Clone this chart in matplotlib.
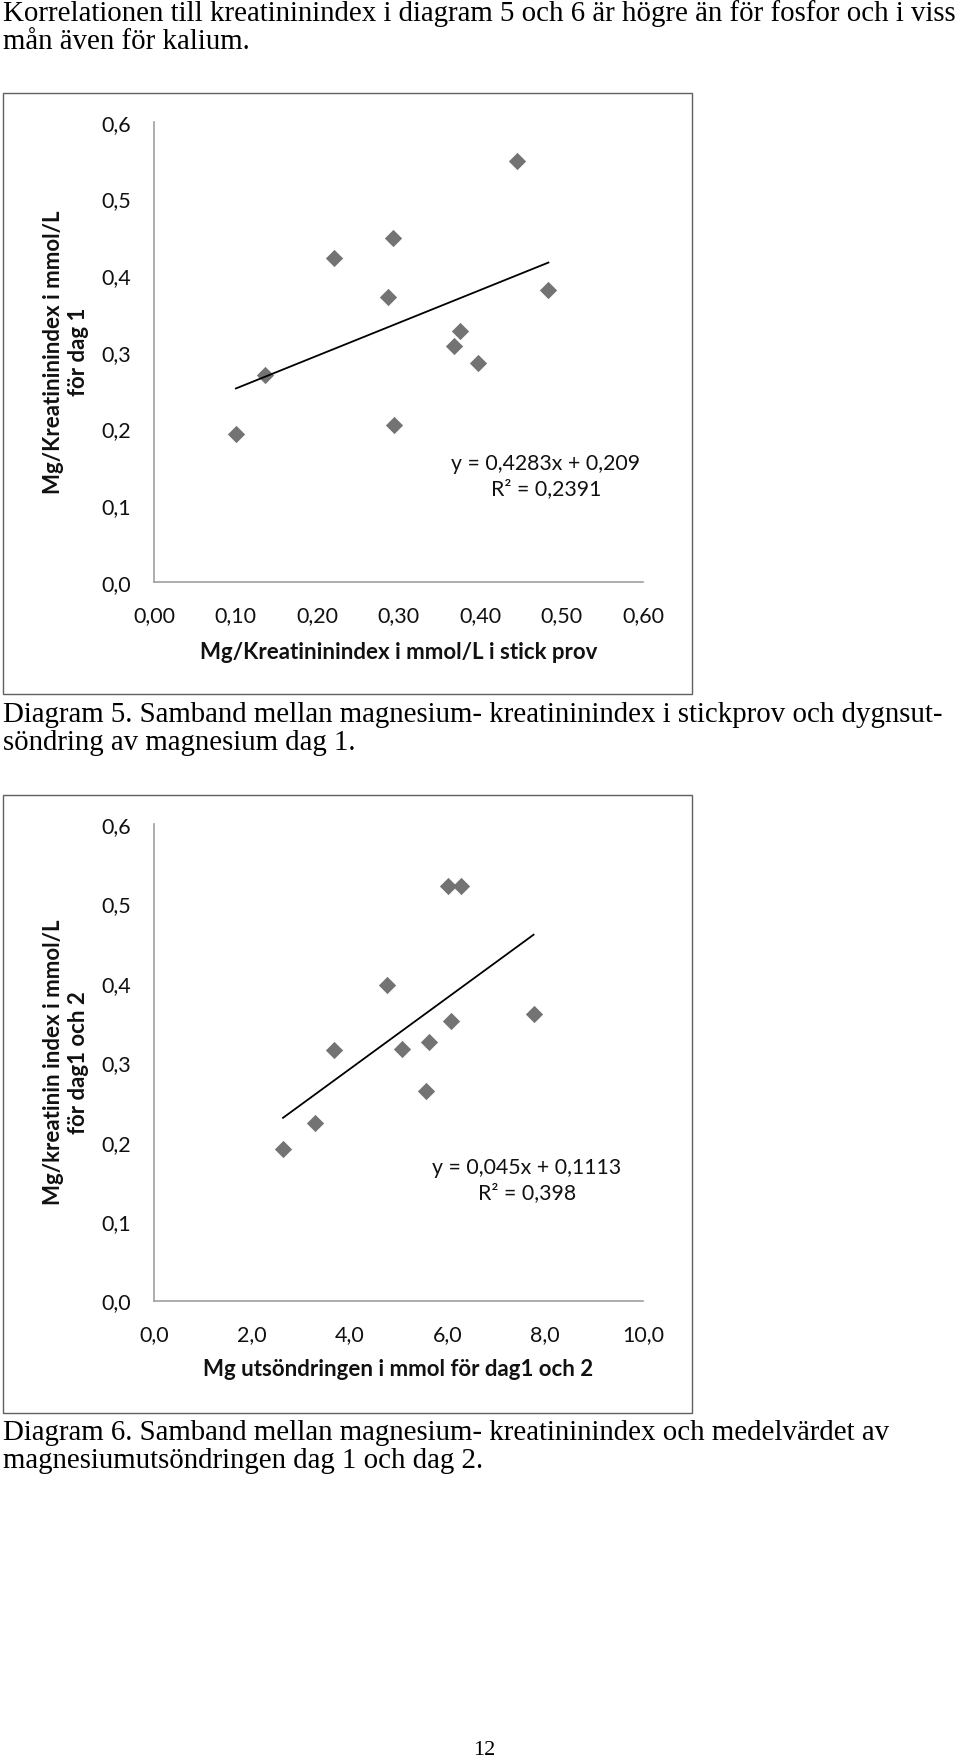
import matplotlib
matplotlib.use("Agg")
import matplotlib.pyplot as plt
from matplotlib.patches import Rectangle
import numpy as np

W, H, DPI = 960, 1758, 100

# ---------------- data ----------------
# Diagram 5
d5_x = [0.1005, 0.1356, 0.2209, 0.2927, 0.2867, 0.2948, 0.3678, 0.3750, 0.3970, 0.4460, 0.4840]
d5_y = [0.193, 0.270, 0.422, 0.448, 0.372, 0.205, 0.308, 0.3265, 0.2856, 0.549, 0.380]
d5_slope, d5_intercept = 0.4283, 0.209
d5_equation = "y = 0,4283x + 0,209\nR² = 0,2391"
d5_xticks = [0.0, 0.1, 0.2, 0.3, 0.4, 0.5, 0.6]
d5_xticklabels = ["0,00", "0,10", "0,20", "0,30", "0,40", "0,50", "0,60"]
d5_xlabel = "Mg/Kreatininindex i mmol/L i stick prov"
d5_ylabel = "Mg/Kreatininindex i mmol/L\nför dag 1"

# Diagram 6
d6_x = [2.638, 3.294, 3.680, 4.774, 5.073, 5.554, 5.620, 6.013, 6.283, 6.064, 7.762]
d6_y = [0.191, 0.224, 0.315, 0.397, 0.317, 0.264, 0.325, 0.522, 0.522, 0.352, 0.361]
d6_slope, d6_intercept = 0.045, 0.1113
d6_equation = "y = 0,045x + 0,1113\nR² = 0,398"
d6_xticks = [0.0, 2.0, 4.0, 6.0, 8.0, 10.0]
d6_xticklabels = ["0,0", "2,0", "4,0", "6,0", "8,0", "10,0"]
d6_xlabel = "Mg utsöndringen i mmol för dag1 och 2"
d6_ylabel = "Mg/kreatinin index i mmol/L\nför dag1 och 2"

yticks = [0.0, 0.1, 0.2, 0.3, 0.4, 0.5, 0.6]
yticklabels = ["0,0", "0,1", "0,2", "0,3", "0,4", "0,5", "0,6"]

intro_lines = ["Korrelationen till kreatininindex i diagram 5 och 6 är högre än för fosfor och i viss",
               "mån även för kalium."]
caption5 = ["Diagram 5. Samband mellan magnesium- kreatininindex i stickprov och dygnsut-",
            "söndring av magnesium dag 1."]
caption6 = ["Diagram 6. Samband mellan magnesium- kreatininindex och medelvärdet av",
            "magnesiumutsöndringen dag 1 och dag 2."]
page_number = "12"

# ---------------- style ----------------
SANS = ["Lato", "DejaVu Sans"]
SERIF = ["Liberation Serif", "DejaVu Serif"]
MARKER_C = "#737373"
AXIS_C = "#a0a0a0"
FRAME_C = "#606060"
TXT_C = "#111111"

fig = plt.figure(figsize=(W / DPI, H / DPI), dpi=DPI)
fig.patch.set_facecolor("white")


def fx(px):
    return px / W


def fy(py):
    return 1 - py / H


def frame(left, top, right, bottom):
    fig.add_artist(Rectangle((fx(left), fy(bottom)), fx(right - left), (bottom - top) / H,
                             transform=fig.transFigure, fill=False, ec=FRAME_C, lw=1.0))


def scatter_chart(box, xs, ys, slope, intercept, eq, eqpos, xticks, xtl, xlim,
                  xlabel, ylabel, xlabel_y):
    left, top, right, bottom = box
    ax = fig.add_axes([fx(left), fy(bottom), fx(right - left), (bottom - top) / H])
    ax.set_facecolor("none")
    ax.scatter(xs, ys, marker="D", s=8.8 ** 2, color=MARKER_C, linewidths=0, zorder=3)
    xr = np.array([min(xs), max(xs)])
    ax.plot(xr, slope * xr + intercept, color="black", lw=1.3, zorder=4)
    ax.set_xlim(*xlim)
    ax.set_ylim(0, 0.6)
    ax.set_xticks(xticks)
    ax.set_xticklabels(xtl, family=SANS, fontsize=15.5, color=TXT_C)
    ax.set_yticks(yticks)
    ax.set_yticklabels(yticklabels, family=SANS, fontsize=15.5, color=TXT_C)
    ax.tick_params(axis="both", length=0)
    ax.tick_params(axis="y", pad=16.5)
    ax.tick_params(axis="x", pad=17)
    for s in ("top", "right"):
        ax.spines[s].set_visible(False)
    for s in ("left", "bottom"):
        ax.spines[s].set_color(AXIS_C)
        ax.spines[s].set_linewidth(1.2)
    ax.set_xlabel(xlabel, family=SANS, fontsize=16, fontweight="bold", color=TXT_C, va="center")
    ax.xaxis.set_label_coords(0.5, xlabel_y)
    ax.set_ylabel(ylabel, family=SANS, fontsize=16, fontweight="bold", color=TXT_C,
                  va="center", ha="center", multialignment="center", linespacing=1.28)
    ax.yaxis.set_label_coords(-0.18, 0.502)
    ax.text(eqpos[0], eqpos[1], eq, transform=ax.transAxes, family=SANS, fontsize=15.3,
            color=TXT_C, ha="center", va="center", multialignment="center", linespacing=1.3)
    return ax


# Chart frames
frame(3, 94, 692, 695)
frame(3, 796, 692, 1414)

scatter_chart((154, 122.7, 643, 582.7), d5_x, d5_y, d5_slope, d5_intercept, d5_equation,
              (0.8016, 0.231), d5_xticks, d5_xticklabels, (0, 0.6), d5_xlabel, d5_ylabel, -0.1507)
scatter_chart((154, 825, 643, 1301.5), d6_x, d6_y, d6_slope, d6_intercept, d6_equation,
              (0.762, 0.254), d6_xticks, d6_xticklabels, (0, 10), d6_xlabel, d6_ylabel, -0.1417)

# Running text
SER_FS = 20.8


def serif_line(x, y, s, ha="left", size=SER_FS):
    fig.text(fx(x), fy(y), s, family=SERIF, fontsize=size, color="black", ha=ha, va="baseline")


serif_line(3, 21, intro_lines[0])
serif_line(3, 49, intro_lines[1])
serif_line(3, 722, caption5[0])
serif_line(3, 750, caption5[1])
serif_line(3, 1440, caption6[0])
serif_line(3, 1468, caption6[1])
serif_line(484, 1755, page_number, ha="center", size=16)

fig.savefig("out.png", dpi=DPI, facecolor="white")
